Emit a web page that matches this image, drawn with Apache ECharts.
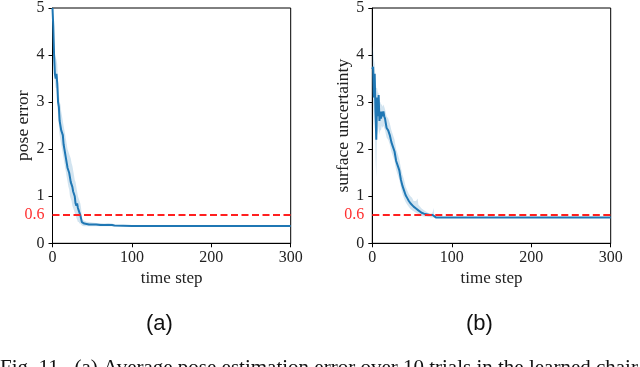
<!DOCTYPE html>
<html>
<head>
<meta charset="utf-8">
<script src="https://cdn.jsdelivr.net/npm/echarts@6/dist/echarts.min.js"></script>
<style>
  html, body { margin: 0; padding: 0; background: #fff; }
  #chart { width: 640px; height: 367px; }
</style>
</head>
<body>
<div id="chart"></div>
<script>
// (a) pose error : time, mean, band low, band high
var poseT = [0, 1, 2, 3, 4, 5, 6, 7, 8, 9, 10, 11, 12, 13, 14, 15, 16, 17, 18, 19, 20, 21, 22, 23, 24, 25, 26, 27, 28, 29, 30, 31, 32, 33, 34, 35, 36, 37, 38, 40, 43, 46, 50, 55, 60, 65, 70, 75, 78, 80, 100, 150, 200, 250, 300];
var poseMean = [5.0, 4.6, 4.0, 3.6, 3.5, 3.6, 3.4, 3.0, 2.9, 2.6, 2.6, 2.4, 2.4, 2.3, 2.1, 2.0, 1.9, 1.8, 1.7, 1.6, 1.6, 1.5, 1.4, 1.3, 1.3, 1.2, 1.1, 1.1, 1.0, 0.85, 0.8, 0.85, 0.75, 0.7, 0.65, 0.6, 0.6, 0.45, 0.43, 0.42, 0.41, 0.40, 0.40, 0.40, 0.39, 0.39, 0.39, 0.39, 0.38, 0.37, 0.37, 0.37, 0.37, 0.37, 0.37];
var poseLow = [4.8, 4.2, 3.7, 3.4, 3.3, 3.3, 3.1, 2.7, 2.5, 2.3, 2.2, 2.1, 2.0, 1.9, 1.8, 1.7, 1.6, 1.5, 1.4, 1.3, 1.2, 1.15, 1.0, 0.95, 0.9, 0.8, 0.75, 0.7, 0.65, 0.6, 0.55, 0.5, 0.45, 0.45, 0.42, 0.42, 0.4, 0.38, 0.37, 0.36, 0.36, 0.36, 0.36, 0.36, 0.36, 0.36, 0.36, 0.36, 0.36, 0.36, 0.36, 0.36, 0.36, 0.36, 0.36];
var poseHigh = [5.0, 4.8, 4.3, 4.0, 3.95, 3.9, 3.8, 3.4, 3.2, 3.0, 2.95, 2.8, 2.7, 2.6, 2.5, 2.4, 2.3, 2.2, 2.1, 2.0, 1.95, 1.9, 1.85, 1.8, 1.7, 1.65, 1.55, 1.45, 1.35, 1.3, 1.2, 1.1, 1.0, 0.95, 0.9, 0.85, 0.75, 0.55, 0.5, 0.48, 0.46, 0.45, 0.44, 0.43, 0.43, 0.42, 0.43, 0.42, 0.4, 0.38, 0.38, 0.38, 0.38, 0.38, 0.38];

// (b) surface uncertainty
var surfT = [0, 1, 2, 3, 4, 5, 6, 7, 8, 9, 10, 11, 12, 13, 14, 15, 16, 18, 20, 22, 24, 26, 28, 30, 32, 34, 36, 38, 40, 42, 44, 46, 48, 50, 52, 55, 57, 58, 60, 62, 65, 68, 70, 72, 74, 76, 77, 78, 80, 100, 150, 200, 250, 300];
var surfMean = [3.7, 3.75, 3.1, 3.6, 2.8, 2.2, 3.1, 2.7, 3.15, 2.6, 2.8, 2.65, 2.8, 2.7, 2.8, 2.7, 2.65, 2.45, 2.4, 2.3, 2.15, 2.05, 1.95, 1.75, 1.65, 1.55, 1.35, 1.22, 1.12, 1.02, 0.96, 0.9, 0.85, 0.82, 0.78, 0.74, 0.72, 0.7, 0.68, 0.65, 0.63, 0.62, 0.61, 0.6, 0.59, 0.6, 0.57, 0.56, 0.55, 0.55, 0.55, 0.55, 0.55, 0.55];
var surfLow = [3.3, 2.9, 2.5, 2.8, 1.8, 1.4, 2.4, 2.3, 2.5, 2.3, 2.4, 2.4, 2.5, 2.45, 2.5, 2.45, 2.4, 2.25, 2.2, 2.1, 1.95, 1.85, 1.75, 1.55, 1.45, 1.35, 1.18, 1.05, 0.95, 0.87, 0.82, 0.77, 0.73, 0.7, 0.68, 0.65, 0.63, 0.62, 0.6, 0.58, 0.57, 0.57, 0.56, 0.56, 0.55, 0.55, 0.55, 0.54, 0.54, 0.54, 0.54, 0.54, 0.54, 0.54];
var surfHigh = [4.2, 4.1, 3.9, 3.8, 3.5, 3.3, 3.3, 3.2, 3.2, 3.0, 3.0, 2.95, 2.95, 2.9, 2.95, 2.9, 2.85, 2.7, 2.65, 2.55, 2.4, 2.3, 2.2, 2.0, 1.9, 1.78, 1.6, 1.45, 1.35, 1.2, 1.12, 1.05, 1.0, 0.97, 0.9, 0.9, 0.95, 0.82, 0.78, 0.74, 0.7, 0.67, 0.65, 0.64, 0.63, 0.66, 0.75, 0.58, 0.56, 0.56, 0.56, 0.56, 0.56, 0.56];

var threshold = 0.6;

var blue = '#1f77b4';
var bandColor = 'rgba(31,119,180,0.2)';
var serif = '"Liberation Serif", "DejaVu Serif", serif';

function zip(t, a, b) {
    return t.map(function (v, i) { return b ? [v, a[i], b[i]] : [v, a[i]]; });
}

// bande claire : un seul polygone construit avec les échelles de l'axe
function bandSeries(idx, t, lo, hi) {
    return {
        type: 'custom',
        xAxisIndex: idx,
        yAxisIndex: idx,
        silent: true,
        data: zip(t, lo, hi),
        encode: { x: 0, y: [1, 2] },
        renderItem: function (params, api) {
            if (params.dataIndex !== 0) return null;
            var pts = [];
            for (var i = 0; i < t.length; i++) pts.push(api.coord([t[i], hi[i]]));
            for (var j = t.length - 1; j >= 0; j--) pts.push(api.coord([t[j], lo[j]]));
            return {
                type: 'polygon',
                shape: { points: pts },
                style: { fill: bandColor, stroke: null }
            };
        },
        z: 1
    };
}

function meanSeries(idx, t, m) {
    return {
        type: 'line',
        xAxisIndex: idx,
        yAxisIndex: idx,
        data: zip(t, m),
        showSymbol: false,
        lineStyle: { color: blue, width: 2 },
        z: 3,
        markLine: {
            silent: true,
            symbol: 'none',
            data: [{ yAxis: threshold }],
            lineStyle: { color: '#ff2020', type: [7, 3.5], width: 2 },
            label: {
                position: 'start',
                distance: 8,
                formatter: '0.6',
                color: '#ff3030',
                fontFamily: serif,
                fontSize: 16
            },
            z: 4
        }
    };
}

function xAxisOpt(idx) {
    return {
        type: 'value',
        gridIndex: idx,
        min: 0, max: 300, interval: 100,
        name: 'time step',
        nameLocation: 'middle',
        nameGap: 25,
        nameTextStyle: { color: '#222', fontFamily: serif, fontSize: 17 },
        axisLine: { show: true, lineStyle: { color: '#000', width: 1 } },
        axisTick: { show: true, inside: false, length: 4, lineStyle: { color: '#000' } },
        axisLabel: { color: '#222', fontFamily: serif, fontSize: 16, margin: 6 },
        splitLine: { show: false }
    };
}

function yAxisOpt(idx, name) {
    return {
        type: 'value',
        gridIndex: idx,
        min: 0, max: 5, interval: 1,
        name: name,
        nameLocation: 'middle',
        nameGap: 20,
        nameTextStyle: { color: '#222', fontFamily: serif, fontSize: 17.5 },
        axisLine: { show: true, lineStyle: { color: '#000', width: 1 } },
        axisTick: { show: true, inside: false, length: 4, lineStyle: { color: '#000' } },
        axisLabel: { color: '#222', fontFamily: serif, fontSize: 16, margin: 8 },
        splitLine: { show: false }
    };
}

var chart = echarts.init(document.getElementById('chart'), null, { renderer: 'canvas' });

var option = {
    animation: false,
    backgroundColor: '#fff',
    grid: [
        { left: 52.5, top: 5.7, width: 238.2, height: 237.6, show: true, borderColor: '#000', borderWidth: 1 },
        { left: 372.3, top: 5.7, width: 238.4, height: 237.6, show: true, borderColor: '#000', borderWidth: 1 }
    ],
    xAxis: [xAxisOpt(0), xAxisOpt(1)],
    yAxis: [yAxisOpt(0, 'pose error'), yAxisOpt(1, 'surface uncertainty')],
    series: [
        bandSeries(0, poseT, poseLow, poseHigh),
        meanSeries(0, poseT, poseMean),
        bandSeries(1, surfT, surfLow, surfHigh),
        meanSeries(1, surfT, surfMean)
    ],
    graphic: [
        { type: 'text', left: 146, top: 313, style: { text: '(a)', font: '22px "Liberation Sans", Arial, sans-serif', fill: '#111' } },
        { type: 'text', left: 466, top: 313, style: { text: '(b)', font: '22px "Liberation Sans", Arial, sans-serif', fill: '#111' } },
        { type: 'text', left: 0, top: 358, style: { text: 'Fig. 11.  (a) Average pose estimation error over 10 trials in the learned chair', font: '21px "Liberation Serif", serif', fill: '#111' } }
    ]
};

chart.setOption(option);
</script>
</body>
</html>
